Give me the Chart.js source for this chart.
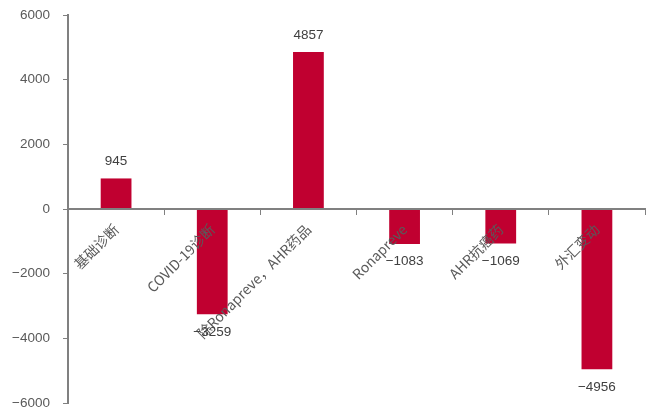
<!DOCTYPE html>
<html><head><meta charset="utf-8">
<script src="https://cdn.jsdelivr.net/npm/chart.js@4.4.0/dist/chart.umd.min.js"></script>
<style>html,body{margin:0;padding:0;background:#fff}#w{width:646px;height:410px}</style>
</head><body><div id="w"><canvas id="c"></canvas></div>
<script>
const categories = ["基础诊断", "COVID-19诊断", "除Ronapreve，AHR药品", "Ronapreve", "AHR抗癌药", "外汇变动"];
const values = [945, -3259, 4857, -1083, -1069, -4956];
const yTicks = [-6000, -4000, -2000, 0, 2000, 4000, 6000];

const fmt = v => (v < 0 ? "\u2212" + Math.abs(v) : String(v));
const numFont = "13.5px 'Liberation Sans', Arial, sans-serif";
const catFont = "'Noto Sans CJK SC', 'Liberation Sans', sans-serif";

const labelPlugin = {
  id: 'vals',
  afterDraw(chart) {
    const ctx = chart.ctx;
    const meta = chart.getDatasetMeta(0);
    ctx.save();
    ctx.font = numFont;
    ctx.fillStyle = '#404040';
    ctx.textAlign = 'center';
    meta.data.forEach((bar, i) => {
      const v = values[i];
      if (v >= 0) { ctx.textBaseline = 'bottom'; ctx.fillText(fmt(v), bar.x, bar.y - 10); }
      else { ctx.textBaseline = 'top'; ctx.fillText(fmt(v), bar.x, bar.y + 11); }
    });
    ctx.restore();
  }
};

new Chart(document.getElementById('c'), {
  type: 'bar',
  data: { labels: categories, datasets: [{ data: values, backgroundColor: '#C00030', categoryPercentage: 1, barPercentage: 0.32 }] },
  options: {
    responsive: true, maintainAspectRatio: false, animation: false,
    layout: { padding: { top: 15, right: 1, bottom: 7, left: 0 } },
    plugins: { legend: { display: false }, tooltip: { enabled: false } },
    scales: {
      x: {
        position: { y: 0 },
        afterFit(s) { s.height = 0; s.paddingLeft = 0; s.paddingRight = 0; },
        grid: { offset: true, drawOnChartArea: false, drawTicks: true, tickLength: 5, color: '#808080', lineWidth: 1, z: 1 },
        border: { color: '#808080', width: 2, z: 1 },
        ticks: { z: 1, minRotation: 45, maxRotation: 45, autoSkip: false, color: '#5a5a5a', padding: 7, font: { family: catFont, size: 14 } }
      },
      y: {
        min: -6000, max: 6000,
        afterFit(s) { s.width = 68; s.paddingTop = 0; s.paddingBottom = 0; },
        afterBuildTicks(s) { s.ticks = yTicks.map(v => ({ value: v })); },
        grid: { drawOnChartArea: false, drawTicks: true, tickLength: 5, color: '#808080' },
        border: { color: '#808080', width: 2 },
        ticks: { color: '#595959', padding: 13, font: { family: "'Liberation Sans', Arial, sans-serif", size: 13.5 }, callback: v => fmt(v) }
      }
    }
  },
  plugins: [labelPlugin]
});
</script></body></html>
